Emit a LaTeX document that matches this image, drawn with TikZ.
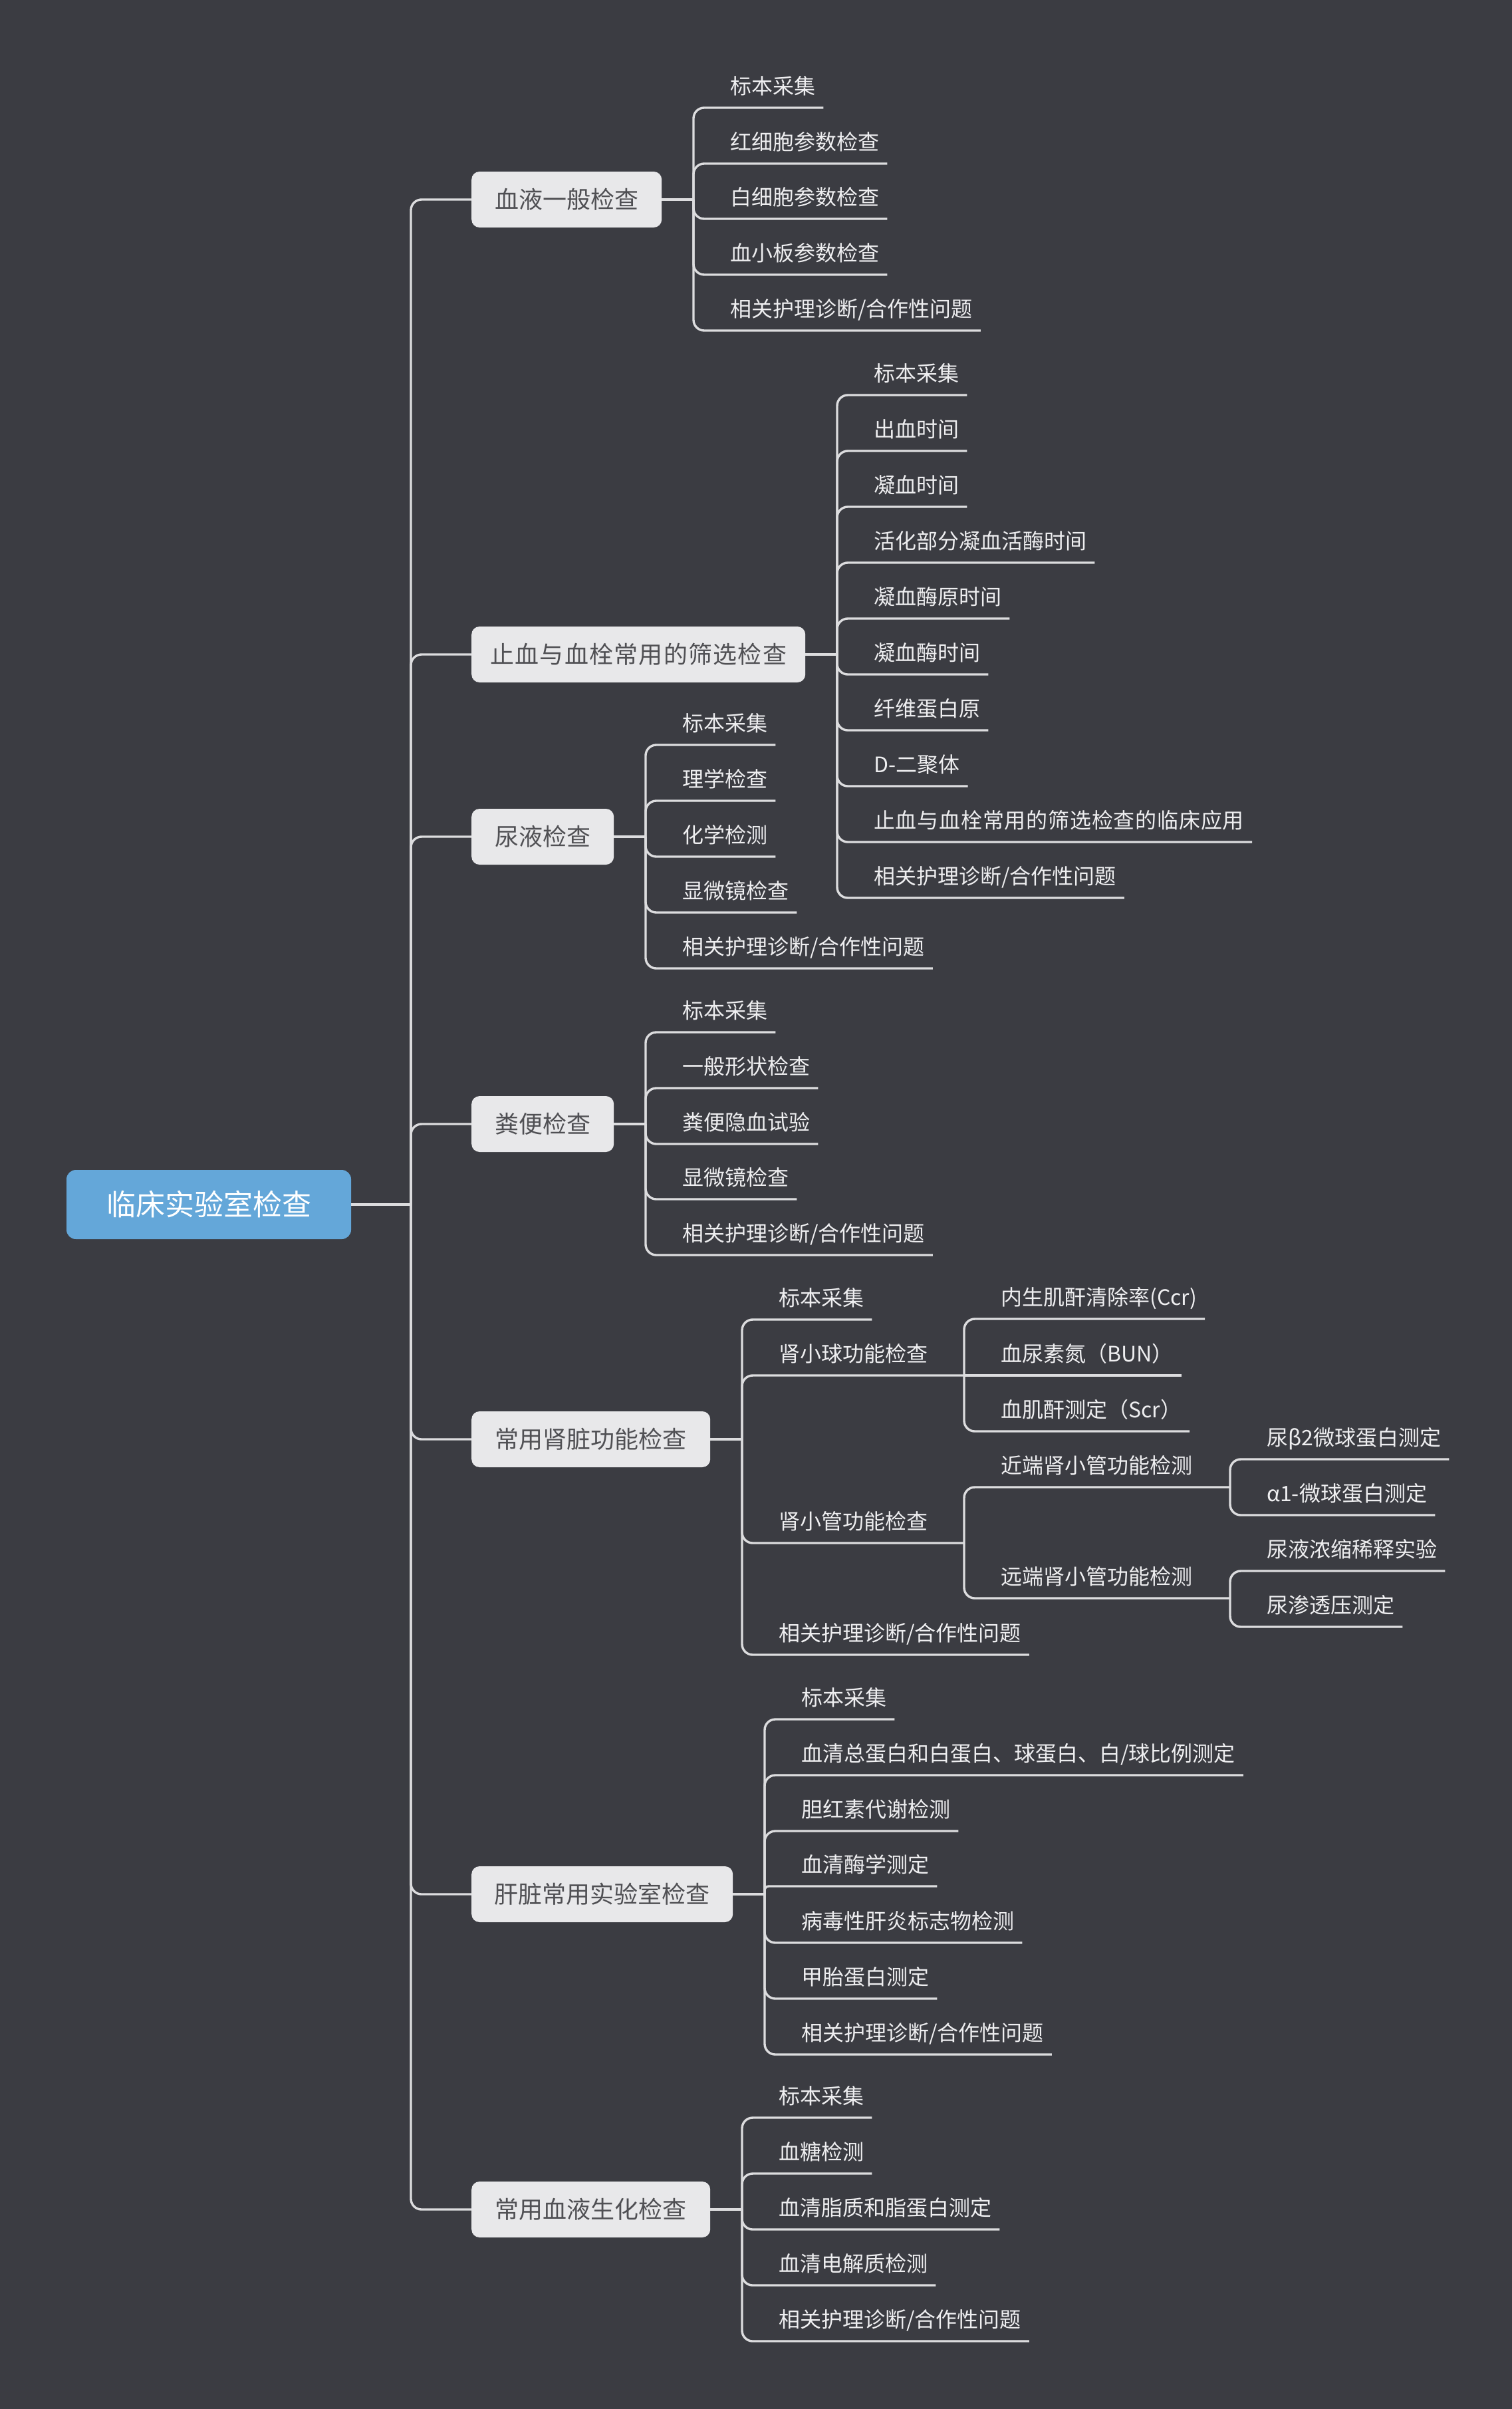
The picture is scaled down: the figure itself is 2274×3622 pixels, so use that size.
\documentclass[tikz,border=0pt]{standalone}
\usepackage{fontspec}
\newfontfamily\cjk{Noto Sans CJK SC}
\definecolor{bg}{HTML}{3B3C42}
\definecolor{ln}{HTML}{DCDCDE}
\definecolor{nodefill}{HTML}{E8E8EA}
\definecolor{nodetext}{HTML}{505054}
\definecolor{rootfill}{HTML}{64A7D9}
\definecolor{leaftext}{HTML}{EEEEF0}
\newcommand\mmleaf[6][16]{%
  \node[leaf] (#2) at (#3+55,#5-21) {#6};
  \coordinate (#2-j) at (#3,#4);
  \coordinate (#2-u) at (#3,#5);
  \coordinate (#2-e) at ([xshift=12pt]#2.east);
  \draw[conn,rounded corners=#1pt] (#2-j) -- (#2-u) -- (#2-e |- #2-u);
}
\newcommand\mmmid[7][16]{%
  \node[leaf] (#2) at (#3+55,#5-21) {#6};
  \coordinate (#2-j) at (#3,#4);
  \coordinate (#2-u) at (#3,#5);
  \coordinate (#2-x) at (#7,#5);
  \draw[conn,rounded corners=#1pt] (#2-j) -- (#2-u) -- (#2-x);
}
\begin{document}
\begin{tikzpicture}[x=1pt,y=-1pt,
  conn/.style={draw=ln,line width=3.4pt},
  rootnode/.style={fill=rootfill,rounded corners=14pt,minimum width=428pt,minimum height=104pt,inner sep=0pt,text=white,font=\cjk\fontsize{44pt}{50pt}\selectfont,text height=38.7pt,text depth=5.3pt},
  topic/.style={fill=nodefill,rounded corners=12pt,minimum height=84pt,inner sep=0pt,anchor=west,text=nodetext,font=\cjk\fontsize{36pt}{42pt}\selectfont,text height=31.7pt,text depth=4.3pt},
  leaf/.style={inner sep=0pt,anchor=base west,text=leaftext,font=\cjk\fontsize{32pt}{38pt}\selectfont},
]
\useasboundingbox (0,0) rectangle (2274,3622);
\fill[bg] (0,0) rectangle (2274,3622);

% root and trunk
\node[rootnode] (root) at (314,1811) {临床实验室检查};
\coordinate (tr) at (618,1811);
\draw[conn] (root.east) -- (tr);

% level-1 topics
\node[topic,minimum width=286pt] (n1) at (709,300) {血液一般检查};
\node[topic,minimum width=502pt] (n2) at (709,984) {\addfontfeature{LetterSpace=3.5}止血与血栓常用的筛选检查};
\node[topic,minimum width=214pt] (n3) at (709,1258) {尿液检查};
\node[topic,minimum width=214pt] (n4) at (709,1690) {粪便检查};
\node[topic,minimum width=359pt] (n5) at (709,2164) {常用肾脏功能检查};
\node[topic,minimum width=393pt] (n6) at (709,2848) {肝脏常用实验室检查};
\node[topic,minimum width=359pt] (n7) at (709,3322) {常用血液生化检查};
\foreach \n in {n1,n2,n3,n4,n5,n6,n7}{
  \draw[conn,rounded corners=16pt] (tr) |- (\n.west);
}

% sub-trunk junctions
\coordinate (s1) at (1043,300);
\coordinate (s2) at (1259,984);
\coordinate (s3) at (971,1258);
\coordinate (s4) at (971,1690);
\coordinate (s5) at (1116,2164);
\coordinate (s6) at (1150,2848);
\coordinate (s7) at (1116,3322);
\draw[conn] (n1.east) -- (s1);
\draw[conn] (n2.east) -- (s2);
\draw[conn] (n3.east) -- (s3);
\draw[conn] (n4.east) -- (s4);
\draw[conn] (n5.east) -- (s5);
\draw[conn] (n6.east) -- (s6);
\draw[conn] (n7.east) -- (s7);

% group 1
\mmleaf{a1}{1043}{300}{162}{标本采集}
\mmleaf{a2}{1043}{300}{246}{红细胞参数检查}
\mmleaf{a3}{1043}{300}{329}{白细胞参数检查}
\mmleaf{a4}{1043}{300}{413}{血小板参数检查}
\mmleaf{a5}{1043}{300}{497}{相关护理诊断/合作性问题}

% group 2
\mmleaf{b1}{1259}{984}{594}{标本采集}
\mmleaf{b2}{1259}{984}{678}{出血时间}
\mmleaf{b3}{1259}{984}{762}{凝血时间}
\mmleaf{b4}{1259}{984}{846}{活化部分凝血活酶时间}
\mmleaf{b5}{1259}{984}{930}{凝血酶原时间}
\mmleaf{b6}{1259}{984}{1014}{凝血酶时间}
\mmleaf{b7}{1259}{984}{1098}{纤维蛋白原}
\mmleaf{b8}{1259}{984}{1182}{D-二聚体}
\mmleaf{b9}{1259}{984}{1266}{\addfontfeature{LetterSpace=2.5}止血与血栓常用的筛选检查的临床应用}
\mmleaf{b10}{1259}{984}{1350}{相关护理诊断/合作性问题}

% group 3
\mmleaf{c1}{971}{1258}{1120}{标本采集}
\mmleaf{c2}{971}{1258}{1204}{理学检查}
\mmleaf{c3}{971}{1258}{1288}{化学检测}
\mmleaf{c4}{971}{1258}{1372}{显微镜检查}
\mmleaf{c5}{971}{1258}{1456}{相关护理诊断/合作性问题}

% group 4
\mmleaf{d1}{971}{1690}{1552}{标本采集}
\mmleaf{d2}{971}{1690}{1636}{一般形状检查}
\mmleaf{d3}{971}{1690}{1720}{粪便隐血试验}
\mmleaf{d4}{971}{1690}{1803}{显微镜检查}
\mmleaf{d5}{971}{1690}{1887}{相关护理诊断/合作性问题}

% group 5
\mmleaf{e1}{1116}{2164}{1984}{标本采集}
\mmmid{e2}{1116}{2164}{2068}{肾小球功能检查}{1450}
\mmmid{e3}{1116}{2164}{2320}{肾小管功能检查}{1450}
\mmleaf{e4}{1116}{2164}{2488}{相关护理诊断/合作性问题}
% glomerular children
\mmleaf{f1}{1450}{2068}{1983}{内生肌酐清除率(Ccr)}
\node[leaf] (f2) at (1505,2047) {血尿素氮（BUN）};
\coordinate (f2-e) at ([xshift=12pt]f2.east);
\draw[conn] (e2-x) -- (f2-e |- e2-x);
\mmleaf{f3}{1450}{2068}{2152}{血肌酐测定（Scr）}
% tubular children
\mmmid{g1}{1450}{2320}{2236}{近端肾小管功能检测}{1850}
\mmmid{g2}{1450}{2320}{2403}{远端肾小管功能检测}{1850}
\mmleaf{h1}{1850}{2236}{2194}{尿β2微球蛋白测定}
\mmleaf{h2}{1850}{2236}{2278}{α1-微球蛋白测定}
\mmleaf{h3}{1850}{2403}{2362}{尿液浓缩稀释实验}
\mmleaf{h4}{1850}{2403}{2446}{尿渗透压测定}

% group 6
\mmleaf{i1}{1150}{2848}{2585}{标本采集}
\mmleaf{i2}{1150}{2848}{2669}{血清总蛋白和白蛋白、球蛋白、白/球比例测定}
\mmleaf{i3}{1150}{2848}{2753}{胆红素代谢检测}
\mmleaf[6]{i4}{1150}{2848}{2836}{血清酶学测定}
\mmleaf{i5}{1150}{2848}{2921}{病毒性肝炎标志物检测}
\mmleaf{i6}{1150}{2848}{3005}{甲胎蛋白测定}
\mmleaf{i7}{1150}{2848}{3089}{相关护理诊断/合作性问题}

% group 7
\mmleaf{j1}{1116}{3322}{3184}{标本采集}
\mmleaf{j2}{1116}{3322}{3268}{血糖检测}
\mmleaf{j3}{1116}{3322}{3352}{血清脂质和脂蛋白测定}
\mmleaf{j4}{1116}{3322}{3436}{血清电解质检测}
\mmleaf{j5}{1116}{3322}{3520}{相关护理诊断/合作性问题}
\end{tikzpicture}
\end{document}
